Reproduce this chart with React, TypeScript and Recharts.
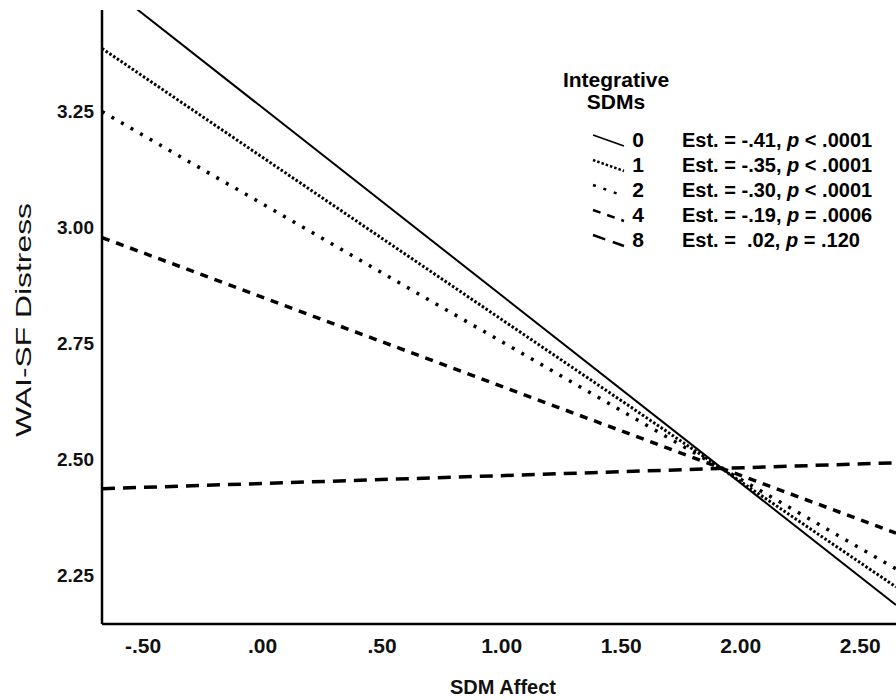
import React from 'react';
import { LineChart, Line, XAxis, YAxis } from 'recharts';

// SDM Affect at the left and right edges of the plot
const xValues = [-0.672, 2.65];

// predicted WAI-SF Distress per level of Integrative SDMs
const est0 = [3.53, 2.185];
const est1 = [3.386, 2.224];
const est2 = [3.25, 2.263];
const est4 = [2.978, 2.34];
const est8 = [2.436, 2.492];

const levels = ['0', '1', '2', '4', '8'];
const estimates = ['-.41', '-.35', '-.30', '-.19', ' .02'];
const pSigns = ['<', '<', '<', '=', '='];
const pValues = ['.0001', '.0001', '.0001', '.0006', '.120'];

const xTicks = [-0.5, 0, 0.5, 1, 1.5, 2, 2.5];
const yTicks = [2.25, 2.5, 2.75, 3, 3.25];

const series = [
  { key: 's0', values: est0, dash: undefined, width: 2 },
  { key: 's1', values: est1, dash: '2.5 2', width: 3 },
  { key: 's2', values: est2, dash: '3 8', width: 3.5 },
  { key: 's4', values: est4, dash: '8 7', width: 3.5 },
  { key: 's8', values: est8, dash: '13 8', width: 3.5 },
];

const data = xValues.map((x, i) => {
  const row: Record<string, number> = { x };
  series.forEach((s) => (row[s.key] = s.values[i]));
  return row;
});

const font = "'Liberation Sans', Arial, sans-serif";

function fmtX(v: number) {
  const a = Math.abs(v).toFixed(2);
  const t = Math.abs(v) < 1 ? a.slice(1) : a;
  return v < 0 ? '-' + t : t;
}

function LegendBox() {
  return (
    <svg width={340} height={200} style={{ overflow: 'visible' }}>
      <g fontFamily={font} fontWeight="bold" fill="#000">
        <text x={76} y={27} textAnchor="middle" fontSize={21}>Integrative</text>
        <text x={76} y={49} textAnchor="middle" fontSize={21}>SDMs</text>
        {levels.map((lv, i) => {
          const by = 87 + i * 25;
          const s = series[i];
          return (
            <g key={lv}>
              <line x1={53} y1={by - 12} x2={84} y2={by - 1} stroke="#000" strokeWidth={s.width > 2 ? 2.5 : 1.8} strokeDasharray={s.dash} />
              <text x={104} y={by} textAnchor="end" fontSize={21}>{lv}</text>
              <text x={142} y={by} fontSize={20} style={{ whiteSpace: 'pre' }}>
                {'Est. = ' + estimates[i] + ', '}
                <tspan fontStyle="italic">p</tspan>
                {' ' + pSigns[i] + ' ' + pValues[i]}
              </text>
            </g>
          );
        })}
      </g>
    </svg>
  );
}

export default function App() {
  return (
    <div style={{ position: 'relative', width: 896, height: 700, background: '#fff' }}>
      <style>{'body{margin:0;background:#fff}'}</style>
      <LineChart width={896} height={700} data={data} margin={{ top: 10, right: 0, bottom: 16, left: 0 }}>
        <XAxis
          type="number"
          dataKey="x"
          domain={[-0.672, 2.65]}
          allowDataOverflow
          ticks={xTicks}
          tickFormatter={fmtX}
          tickLine={false}
          tickMargin={8}
          height={60}
          axisLine={{ stroke: '#000', strokeWidth: 2.5 }}
          tick={{ fill: '#111', fontSize: 21, fontWeight: 'bold', fontFamily: font }}
          label={() => (
            <text x={503} y={694} textAnchor="middle" fontSize={20} fontWeight="bold" fontFamily={font} fill="#111">
              SDM Affect
            </text>
          )}
        />
        <YAxis
          type="number"
          domain={[2.144, 3.469]}
          allowDataOverflow
          ticks={yTicks}
          tickFormatter={(v: number) => v.toFixed(2)}
          tickLine={false}
          width={102}
          axisLine={{ stroke: '#000', strokeWidth: 2.5 }}
          tick={{ fill: '#111', fontSize: 19, fontWeight: 'bold', fontFamily: font }}
          label={() => (
            <text
              x={31}
              y={320}
              transform="rotate(-90, 31, 320)"
              textAnchor="middle"
              fontSize={22}
              fontFamily={font}
              fill="#111"
              textLength={234}
              lengthAdjust="spacingAndGlyphs"
            >
              WAI-SF Distress
            </text>
          )}
        />
        {series.map((s) => (
          <Line
            key={s.key}
            dataKey={s.key}
            stroke="#000"
            strokeWidth={s.width}
            strokeDasharray={s.dash}
            dot={false}
            activeDot={false}
            isAnimationActive={false}
            legendType="none"
          />
        ))}
      </LineChart>
      <div style={{ position: 'absolute', left: 540, top: 60 }}>
        <LegendBox />
      </div>
    </div>
  );
}
